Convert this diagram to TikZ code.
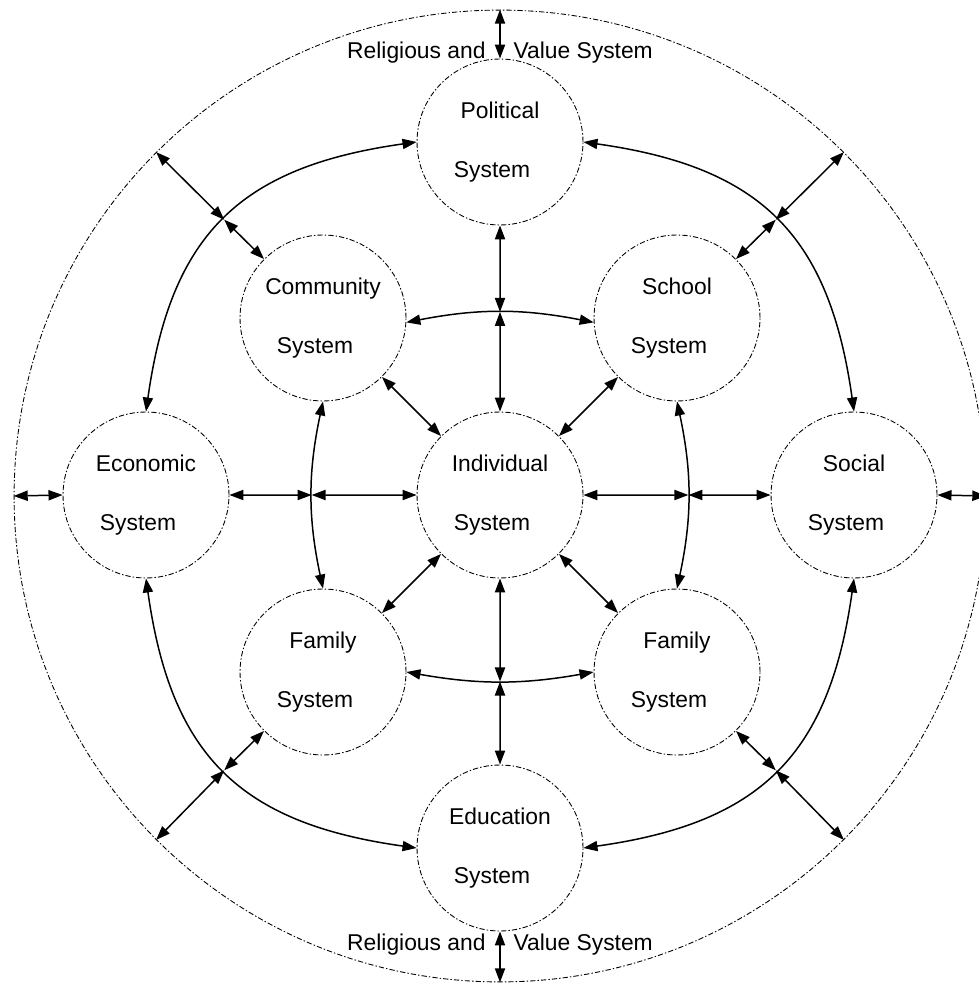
\documentclass[tikz,border=0pt]{standalone}
\usepackage{fontspec}
\setmainfont{Liberation Sans}
\usetikzlibrary{arrows.meta}

\tikzset{
  dashline/.style={line width=0.5pt, dash pattern=on 3pt off 1.2pt on 0.8pt off 1.2pt},
  sys/.style={circle, draw, dashline, minimum size=3.32cm, inner sep=0pt, align=center, font=\fontsize{13}{33.6}\selectfont},
  ringlabel/.style={inner sep=0pt, font=\fontsize{13}{15}\selectfont},
  link/.style={<->, line width=0.85pt},
  >={Triangle[length=8pt,width=5.8pt]}
}

\begin{document}
\begin{tikzpicture}[x=0.02cm, y=0.02cm]
  \useasboundingbox (0,0) rectangle (979,-986);

  % Outer ring and its labels
  \node (ring) [circle, draw, dashline, minimum size=19.44cm, inner sep=0pt] at (500,-496) {};
  \node (reltop) [ringlabel] at (500,-53) {Religious and\hspace{0.56cm}Value System};
  \node (relbot) [ringlabel] at (500,-945) {Religious and\hspace{0.56cm}Value System};

  % Systems: placed on a grid round the individual
  \node (political)  [sys] at (500,-142) {Political\\System\hspace*{0.32cm}};
  \node (community)  [sys] at (323,-318) {Community\\System\hspace*{0.32cm}};
  \node (school)     [sys] at (677,-318) {School\\System\hspace*{0.32cm}};
  \node (economic)   [sys] at (146,-495) {Economic\\System\hspace*{0.32cm}};
  \node (individual) [sys] at (500,-495) {Individual\\System\hspace*{0.32cm}};
  \node (social)     [sys] at (854,-495) {Social\\System\hspace*{0.32cm}};
  \node (familyl)    [sys] at (323,-672) {Family\\System\hspace*{0.32cm}};
  \node (familyr)    [sys] at (677,-672) {Family\\System\hspace*{0.32cm}};
  \node (education)  [sys] at (500,-848) {Education\\System\hspace*{0.32cm}};

  % Ring to the outer systems
  \draw[link] (ring.north) -- (political.north);
  \draw[link] (education.south) -- (ring.south);
  \draw[link] (ring.west) -- (economic.west);
  \draw[link] (social.east) -- (ring.east);

  % Inner arcs, with their crossing points
  \draw[link] (community.-3) to[bend left=11] coordinate[pos=0.5] (ctop) (school.183);
  \draw[link] (familyl.east) to[bend right=10] coordinate[pos=0.5] (cbot) (familyr.west);
  \draw[link] (community.south) to[bend right=12] coordinate[pos=0.5] (cleft) (familyl.north);
  \draw[link] (school.south) to[bend left=12] coordinate[pos=0.5] (cright) (familyr.north);

  % Straight spokes through the crossing points
  \draw[link] (political.south) -- (ctop);
  \draw[link] (ctop) -- (individual.north);
  \draw[link] (individual.south) -- (cbot);
  \draw[link] (cbot) -- (education.north);
  \draw[link] (economic.east) -- (cleft);
  \draw[link] (cleft) -- (individual.west);
  \draw[link] (individual.east) -- (cright);
  \draw[link] (cright) -- (social.west);

  % Diagonal spokes to the individual
  \draw[link] (community.-45) -- (individual.135);
  \draw[link] (school.-135) -- (individual.45);
  \draw[link] (familyl.45) -- (individual.-135);
  \draw[link] (familyr.135) -- (individual.-45);

  % Outer arcs between the outer systems
  \draw[link] (political.west) to[out=188, in=82, looseness=1.2] coordinate[pos=0.5] (ctl) (economic.north);
  \draw[link] (political.east) to[out=-8, in=98, looseness=1.2] coordinate[pos=0.5] (ctr) (social.north);
  \draw[link] (economic.south) to[out=-82, in=172, looseness=1.2] coordinate[pos=0.5] (cbl) (education.west);
  \draw[link] (education.east) to[out=8, in=-98, looseness=1.2] coordinate[pos=0.5] (cbr) (social.south);

  % Diagonal spokes out to the ring
  \draw[link] (community.135) -- (ctl);
  \draw[link] (ctl) -- (ring.135);
  \draw[link] (school.45) -- (ctr);
  \draw[link] (ctr) -- (ring.45);
  \draw[link] (familyl.-135) -- (cbl);
  \draw[link] (cbl) -- (ring.-135);
  \draw[link] (familyr.-45) -- (cbr);
  \draw[link] (cbr) -- (ring.-45);
\end{tikzpicture}
\end{document}
